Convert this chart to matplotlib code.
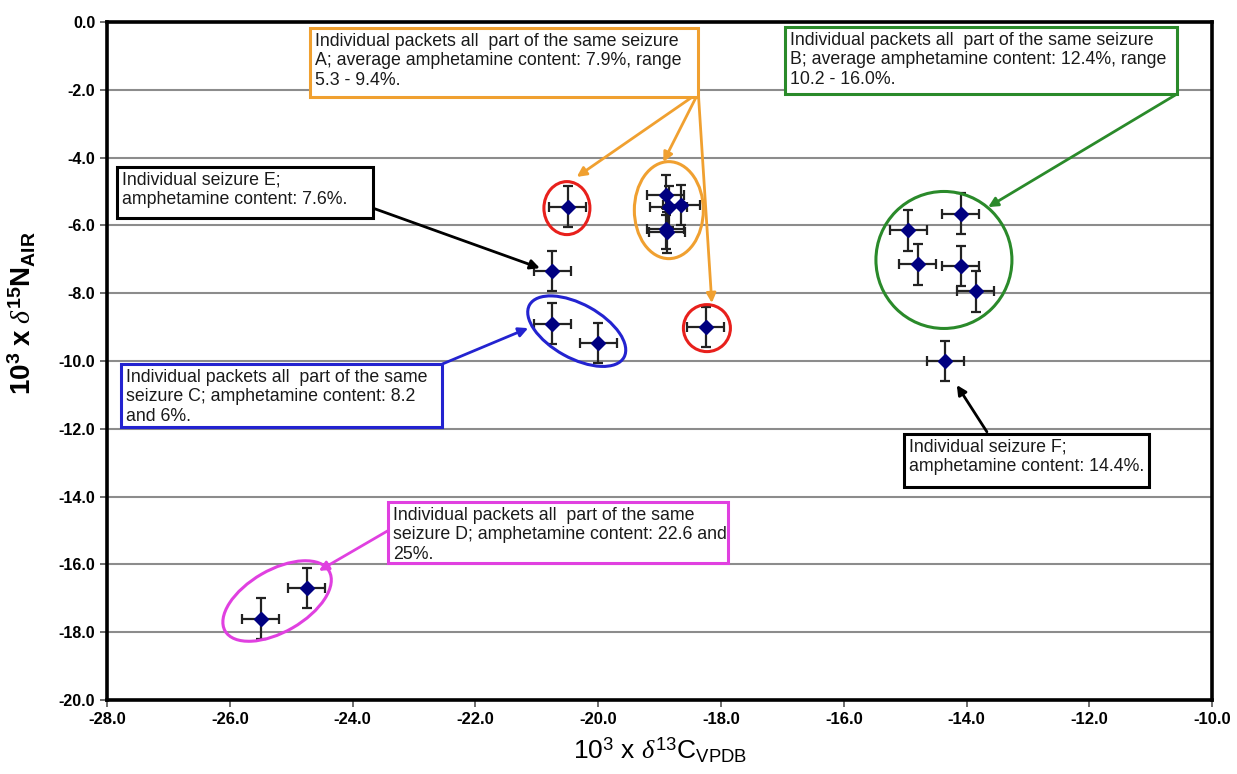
import numpy as np
import matplotlib
matplotlib.use("Agg")
import matplotlib.pyplot as plt
from matplotlib.patches import Ellipse, Rectangle
from matplotlib.transforms import ScaledTranslation

# measured values (d13C, d15N) per group
grp_A_x = [-20.5, -18.9, -18.85, -18.65, -18.9, -18.88, -18.25]
grp_A_y = [-5.45, -5.1, -5.45, -5.4, -6.1, -6.2, -9.0]
grp_B_x = [-14.1, -14.95, -14.8, -14.1, -13.85]
grp_B_y = [-5.65, -6.15, -7.15, -7.2, -7.95]
grp_C_x = [-20.75, -20.0]
grp_C_y = [-8.9, -9.47]
grp_D_x = [-24.75, -25.5]
grp_D_y = [-16.7, -17.6]
seiz_E = (-20.75, -7.35)
seiz_F = (-14.35, -10.0)
x_err = 0.3
y_err = 0.6

xticks = np.arange(-28, -9, 2)
yticks = np.arange(-20, 1, 2)

box_font = ['Liberation Sans Narrow', 'Liberation Sans', 'DejaVu Sans']

plt.rcParams['mathtext.fontset'] = 'custom'
plt.rcParams['mathtext.rm'] = 'Liberation Sans'
plt.rcParams['mathtext.it'] = 'Liberation Serif:italic'
plt.rcParams['mathtext.bf'] = 'Liberation Sans:bold'

fig = plt.figure(figsize=(12.37, 7.74), dpi=100)
ax = fig.add_axes([0.0865, 0.0956, 0.8935, 0.876])

xs = grp_A_x + grp_B_x + grp_C_x + grp_D_x + [seiz_E[0], seiz_F[0]]
ys = grp_A_y + grp_B_y + grp_C_y + grp_D_y + [seiz_E[1], seiz_F[1]]
ax.errorbar(xs, ys, xerr=x_err, yerr=y_err, fmt='D', color='#000080', ms=7,
            ecolor='#222222', elinewidth=1.6, capsize=3.5, capthick=1.6, zorder=5)

ax.set_xlim(-28, -10)
ax.set_ylim(-20, 0)
ax.set_xticks(xticks)
ax.set_yticks(yticks)
ax.set_xticklabels(["%.1f" % t for t in xticks], fontsize=12, fontweight='bold',
                   family='Liberation Sans')
ax.set_yticklabels(["%.1f" % t for t in yticks], fontsize=11.5, fontweight='bold',
                   family='Liberation Sans')
ax.tick_params(direction='out', length=5, width=1.2, color='#555555')
ax.yaxis.grid(True, color='#8c8c8c', lw=1.5)
ax.set_axisbelow(True)
for s in ax.spines.values():
    s.set_linewidth(2.6)
    s.set_color('black')

ax.set_xlabel(r'10$^{3}$ x $\mathit{\delta}^{13}$C$_{\mathrm{VPDB}}$', fontsize=19,
              family='Liberation Sans', labelpad=6)
ax.set_ylabel(r'$\mathbf{10^{3}\ x\ }\mathit{\delta}^{\mathbf{15}}\mathbf{N_{AIR}}$', fontsize=20)
ax.yaxis.set_label_coords(-0.062, 0.57)


def ring(cx, cy, w, h, ang, col):
    # size in pixels, centre in data units
    tr = fig.dpi_scale_trans + ScaledTranslation(cx, cy, ax.transData)
    e = Ellipse((0, 0), w / 100, h / 100, angle=ang, transform=tr,
                fill=False, ec=col, lw=2.2, zorder=6)
    ax.add_patch(e)


ring(-20.51, -5.49, 46, 53, 0, '#e8201c')
ring(-18.85, -5.55, 69, 97, 0, '#f0a030')
ring(-18.23, -9.03, 47, 47, 0, '#e8201c')
ring(-20.35, -9.12, 108, 54, -29, '#2323d0')
ring(-14.37, -7.02, 136, 137, 0, '#2a8a2a')
ring(-25.23, -17.08, 120, 62, 30, '#e040e0')


def note(x0, y0, x1, y1, txt, col):
    ax.add_patch(Rectangle((x0, y1), x1 - x0, y0 - y1, fc='white', ec=col,
                           lw=2.2, zorder=7))
    ax.text(x0 + 0.08, y0 - 0.14, txt, ha='left', va='top', fontsize=12.8,
            family=box_font, linespacing=1.2, color='#1a1a1a', zorder=8)


def arrow(p0, p1, col):
    ax.annotate('', xy=p1, xytext=p0,
                arrowprops=dict(arrowstyle='-|>', color=col, lw=2,
                                mutation_scale=14, shrinkA=0, shrinkB=0),
                zorder=6)


note(-24.69, -0.18, -18.37, -2.21,
     "Individual packets all  part of the same seizure\n"
     "A; average amphetamine content: 7.9%, range\n5.3 - 9.4%.", '#f0a030')
note(-16.96, -0.15, -10.57, -2.12,
     "Individual packets all  part of the same seizure\n"
     "B; average amphetamine content: 12.4%, range\n10.2 - 16.0%.", '#2a8a2a')
note(-27.84, -4.28, -23.67, -5.78,
     "Individual seizure E;\namphetamine content: 7.6%.", 'black')
note(-27.77, -10.09, -22.54, -11.95,
     "Individual packets all  part of the same\n"
     "seizure C; amphetamine content: 8.2\nand 6%.", '#2323d0')
note(-15.02, -12.15, -11.03, -13.72,
     "Individual seizure F;\namphetamine content: 14.4%.", 'black')
note(-23.42, -14.16, -17.89, -15.96,
     "Individual packets all  part of the same\n"
     "seizure D; amphetamine content: 22.6 and\n25%.", '#e040e0')

arrow((-18.37, -2.09), (-20.35, -4.57), '#f0a030')
arrow((-18.37, -2.09), (-18.94, -4.13), '#f0a030')
arrow((-18.37, -2.09), (-18.15, -8.29), '#f0a030')
arrow((-10.57, -2.12), (-13.65, -5.46), '#2a8a2a')
arrow((-23.67, -5.49), (-20.95, -7.26), 'black')
arrow((-22.54, -10.09), (-21.14, -9.03), '#2323d0')
arrow((-13.67, -12.09), (-14.16, -10.71), 'black')
arrow((-23.41, -14.99), (-24.55, -16.19), '#e040e0')

fig.savefig('out.png', dpi=100)
